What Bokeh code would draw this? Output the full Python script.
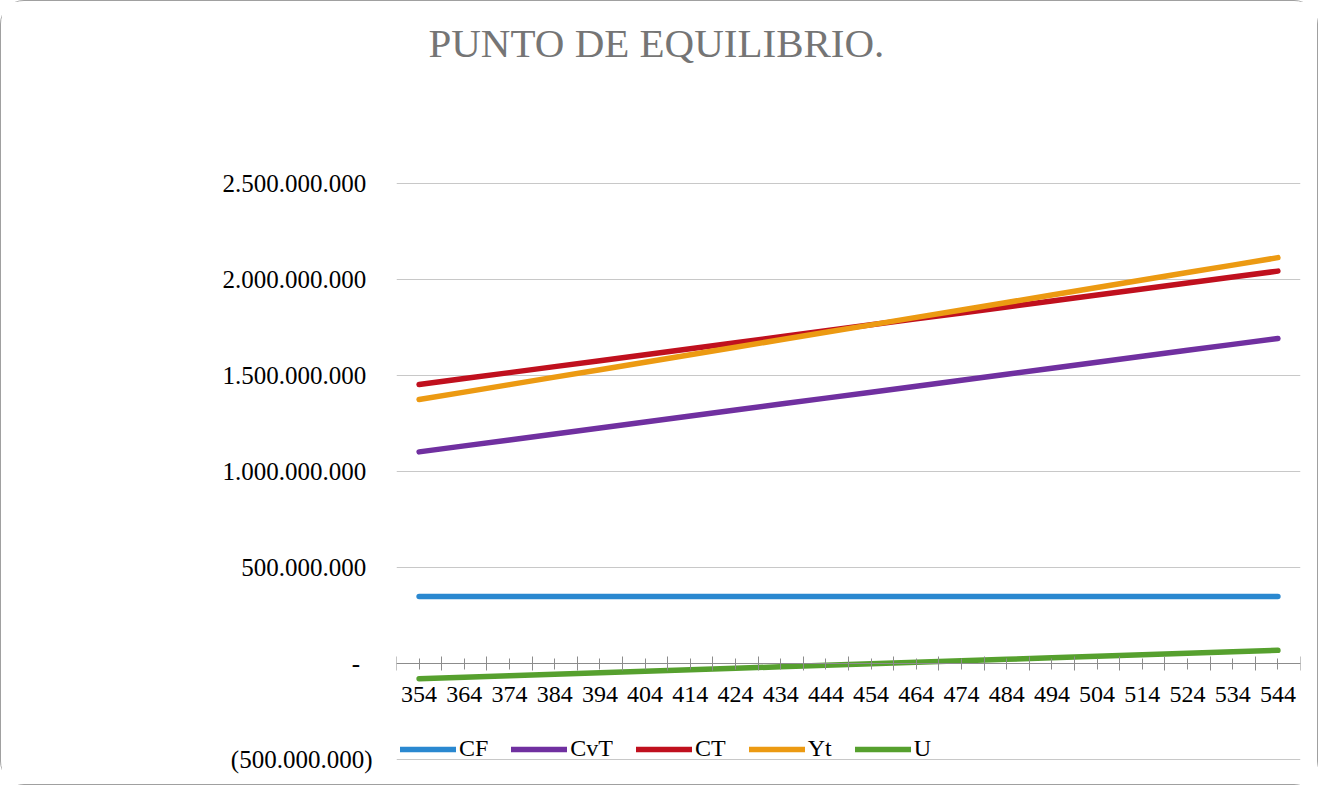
from bokeh.plotting import figure
from bokeh.models import (FactorRange, Range1d, LinearAxis, FixedTicker, Legend,
                          LegendItem, ColumnDataSource, CustomJSTickFormatter, Label)
from bokeh.embed import file_html
from bokeh.resources import INLINE

# ---- data ----
quantities = ["354", "364", "374", "384", "394", "404", "414", "424", "434", "444",
              "454", "464", "474", "484", "494", "504", "514", "524", "534", "544"]

cf = [350_000_000] * 20

cvt = [1_102_000_000, 1_133_100_000, 1_164_100_000, 1_195_200_000, 1_226_200_000,
       1_257_300_000, 1_288_300_000, 1_319_400_000, 1_350_400_000, 1_381_500_000,
       1_412_500_000, 1_443_600_000, 1_474_600_000, 1_505_700_000, 1_536_700_000,
       1_567_800_000, 1_598_800_000, 1_629_900_000, 1_660_900_000, 1_692_000_000]

ct = [1_452_000_000, 1_483_100_000, 1_514_100_000, 1_545_200_000, 1_576_200_000,
      1_607_300_000, 1_638_300_000, 1_669_400_000, 1_700_400_000, 1_731_500_000,
      1_762_500_000, 1_793_600_000, 1_824_600_000, 1_855_700_000, 1_886_700_000,
      1_917_800_000, 1_948_800_000, 1_979_900_000, 2_010_900_000, 2_042_000_000]

yt = [1_374_000_000, 1_412_800_000, 1_451_700_000, 1_490_500_000, 1_529_400_000,
      1_568_200_000, 1_607_000_000, 1_645_900_000, 1_684_700_000, 1_723_600_000,
      1_762_400_000, 1_801_200_000, 1_840_100_000, 1_878_900_000, 1_917_800_000,
      1_956_600_000, 1_995_400_000, 2_034_300_000, 2_073_100_000, 2_112_000_000]

u = [-78_000_000, -70_300_000, -62_400_000, -54_700_000, -46_800_000,
     -39_100_000, -31_300_000, -23_500_000, -15_700_000, -7_900_000,
     -100_000, 7_600_000, 15_500_000, 23_200_000, 31_100_000,
     38_800_000, 46_600_000, 54_400_000, 62_200_000, 70_000_000]

y_ticks = [-500_000_000, 0, 500_000_000, 1_000_000_000, 1_500_000_000,
           2_000_000_000, 2_500_000_000]
y_tick_labels = ["(500.000.000)", "-\u00a0\u00a0", "500.000.000\u00a0",
                 "1.000.000.000\u00a0", "1.500.000.000\u00a0",
                 "2.000.000.000\u00a0", "2.500.000.000\u00a0"]

series_names = ["CF", "CvT", "CT", "Yt", "U"]
series_colors = ["#2a88d0", "#7030a0", "#c0101e", "#ec9a12", "#56a02e"]

TITLE = "PUNTO DE EQUILIBRIO."
FONT = "Liberation Serif"

src = ColumnDataSource(dict(q=quantities, CF=cf, CvT=cvt, CT=ct, Yt=yt, U=u))

# the plot frame extends up to the top so that the title can sit inside it
p = figure(width=1318, height=785,
           x_range=FactorRange(*quantities),
           y_range=Range1d(-503_000_000, 3_418_000_000),
           output_backend="svg", toolbar_location=None,
           min_border_left=395, min_border_right=19,
           min_border_top=5, min_border_bottom=26,
           styles={"border": "1px solid #a0a0a0", "border-radius": "24px"})

p.outline_line_color = None
p.background_fill_color = "white"
p.border_fill_color = "white"

# title, centred on the whole chart
title = Label(x=5.75, y=3_230_000_000, text=TITLE,
              text_font=FONT, text_font_size="41px", text_color="#757575",
              text_align="center", text_baseline="alphabetic")
p.add_layout(title)

# grid
p.xgrid.visible = False
p.ygrid.grid_line_color = "#c8c8c8"
p.ygrid.grid_line_width = 1

# y axis
p.yaxis.ticker = FixedTicker(ticks=y_ticks)
p.yaxis.major_label_overrides = dict(zip(y_ticks, y_tick_labels))
p.yaxis.axis_line_color = None
p.yaxis.major_tick_line_color = None
p.yaxis.minor_tick_line_color = None
p.yaxis.major_label_standoff = 18
p.yaxis.major_label_text_font = FONT
p.yaxis.major_label_text_font_size = "25px"
p.yaxis.major_label_text_color = "black"

# x axis (category centres) crossing at y = 0
p.xaxis.fixed_location = 0
p.xaxis.axis_line_color = "#8c8c8c"
p.xaxis.axis_line_width = 1
p.xaxis.major_tick_line_color = "#8c8c8c"
p.xaxis.major_tick_in = 5
p.xaxis.major_tick_out = 6
p.xaxis.major_label_standoff = 17
p.xaxis.major_label_text_font = FONT
p.xaxis.major_label_text_font_size = "24px"
p.xaxis.major_label_text_color = "black"

# tick marks at category boundaries (synthetic coordinates 0..N of the factor range)
edge_axis = LinearAxis(ticker=FixedTicker(ticks=list(range(len(quantities) + 1))),
                       fixed_location=0,
                       formatter=CustomJSTickFormatter(code="return ''"),
                       axis_line_color=None,
                       major_tick_line_color="#8c8c8c",
                       major_tick_in=7, major_tick_out=7,
                       minor_tick_line_color=None,
                       major_label_text_font_size="1px")
p.add_layout(edge_axis, "below")

# lines
renderers = []
for name, color in zip(series_names, series_colors):
    r = p.line(x="q", y=name, source=src, line_color=color, line_width=5.5,
               line_cap="round", line_join="round")
    renderers.append(r)

legend = Legend(items=[LegendItem(label=n, renderers=[r]) for n, r in zip(series_names, renderers)],
                orientation="horizontal", location=(4, -2),
                label_text_font=FONT, label_text_font_size="24px",
                label_text_color="black",
                glyph_width=56, glyph_height=24, label_height=24,
                label_standoff=3, spacing=23, padding=0, margin=0,
                border_line_color=None, background_fill_alpha=0)
p.add_layout(legend)

open("out.html", "w").write(file_html(p, INLINE))
